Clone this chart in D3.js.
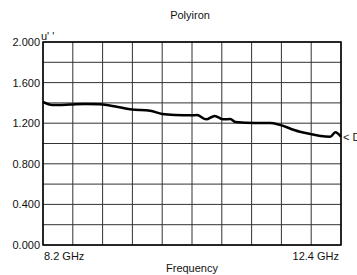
<!DOCTYPE html>
<html>
<head>
<meta charset="utf-8">
<script src="https://cdn.jsdelivr.net/npm/d3@7"></script>
<style>
  body { margin: 0; background: #fff; }
  svg text { font-family: "Liberation Sans Narrow", "Arial Narrow", "Liberation Sans", sans-serif; fill: #111; }
</style>
</head>
<body>
<svg id="chart" width="357" height="275"></svg>
<script>
// frequency in GHz, u''
var freq = [8.2, 8.33, 8.58, 8.79, 9.0, 9.22, 9.43, 9.71, 9.88, 10.06, 10.3, 10.37, 10.5, 10.62, 10.74, 10.84, 10.91, 11.19, 11.4, 11.82, 12.25, 12.32, 12.4];
var uval = [1.41, 1.38, 1.384, 1.389, 1.386, 1.365, 1.337, 1.323, 1.291, 1.281, 1.278, 1.281, 1.238, 1.271, 1.238, 1.241, 1.212, 1.202, 1.202, 1.116, 1.067, 1.11, 1.067];
var yTicks = [0, 0.4, 0.8, 1.2, 1.6, 2.0];
var yGrid = d3.range(0, 2.01, 0.2);
var xGrid = d3.range(0, 11).map(function(i) { return 8.2 + i * 0.42; });

var svg = d3.select("#chart"),
    margin = {top: 42, right: 16, bottom: 30, left: 43},
    width = 357 - margin.left - margin.right,
    height = 275 - margin.top - margin.bottom,
    g = svg.append("g").attr("transform", "translate(" + margin.left + "," + margin.top + ")");

var x = d3.scaleLinear().domain([8.2, 12.4]).range([0, width]);
var y = d3.scaleLinear().domain([0, 2]).range([height, 0]);

// grid
g.selectAll(".vgrid")
  .data(xGrid)
  .enter().append("line")
    .attr("x1", function(d) { return x(d); })
    .attr("x2", function(d) { return x(d); })
    .attr("y1", 0).attr("y2", height)
    .style("stroke", "#333").style("stroke-width", 1);

g.selectAll(".hgrid")
  .data(yGrid)
  .enter().append("line")
    .attr("x1", 0).attr("x2", width)
    .attr("y1", function(d) { return y(d); })
    .attr("y2", function(d) { return y(d); })
    .style("stroke", "#333").style("stroke-width", 1);

g.append("rect")
  .attr("width", width).attr("height", height)
  .attr("fill", "none").style("stroke", "#000").style("stroke-width", 1.5);

// y axis labels
g.append("g")
  .call(d3.axisLeft(y).tickValues(yTicks).tickFormat(d3.format(".3f")).tickSize(0).tickPadding(3))
  .call(function(a) { a.select(".domain").remove(); })
  .selectAll("text")
    .style("font-size", "11px");

// curve
var valueline = d3.line()
  .x(function(d, i) { return x(freq[i]); })
  .y(function(d) { return y(d); })
  .curve(d3.curveMonotoneX);

g.append("path")
  .datum(uval)
  .attr("d", valueline)
  .attr("fill", "none")
  .style("stroke", "#000")
  .style("stroke-width", 2.5)
  .style("stroke-linejoin", "round");

// labels
svg.append("text").attr("x", 190).attr("y", 19).attr("text-anchor", "middle")
  .style("font-size", "11px").text("Polyiron");
svg.append("text").attr("x", 41).attr("y", 40)
  .style("font-size", "11px").text("u' '");
g.append("text").attr("x", 1).attr("y", height + 15)
  .style("font-size", "11px").text("8.2 GHz");
g.append("text").attr("x", width - 2).attr("y", height + 15).attr("text-anchor", "end")
  .style("font-size", "11px").text("12.4 GHz");
svg.append("text").attr("x", 192).attr("y", 272).attr("text-anchor", "middle")
  .style("font-size", "11px").text("Frequency");
g.append("text").attr("x", width + 2).attr("y", y(uval[uval.length - 1])).attr("dy", "0.35em")
  .style("font-size", "11px").text("< D");
</script>
</body>
</html>
